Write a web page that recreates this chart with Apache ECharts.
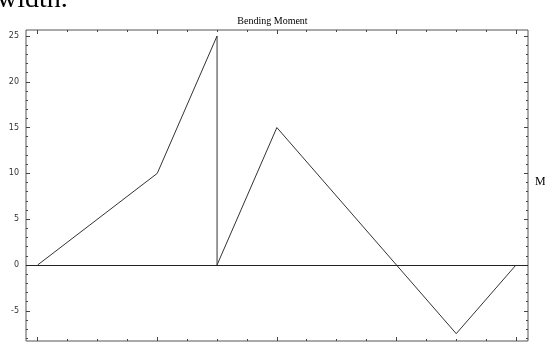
<!DOCTYPE html>
<html>
<head>
<meta charset="utf-8">
<script src="https://cdn.jsdelivr.net/npm/echarts@6/dist/echarts.min.js"></script>
<style>html,body{margin:0;padding:0;background:#fff;}#c{width:545px;height:348px;}</style>
</head>
<body>
<div id="c"></div>
<script>
// Beam position (x) and bending moment (M)
const positions = [0, 4, 6, 6, 8, 14, 16];
const moments   = [0, 10, 25, 0, 15, -7.5, 0];
const yTickLabels = [-5, 0, 5, 10, 15, 20, 25];
const xMinorTicks = [0,1,2,3,4,5,6,7,8,9,10,11,12,13,14,15,16];
const xMajorTicks = [0, 4, 8, 12, 16];
const yMinorTicks = [-8,-7,-6,-5,-4,-3,-2,-1,0,1,2,3,4,5,6,7,8,9,10,11,12,13,14,15,16,17,18,19,20,21,22,23,24,25];
const yMajorTicks = [-5, 0, 5, 10, 15, 20, 25];

const X_MIN = -0.39, X_MAX = 16.4, Y_MIN = -8.3, Y_MAX = 25.65;
const tickColor = '#444';

function xAx(pos, ticks, len) {
  return {
    type: 'value', position: pos, min: X_MIN, max: X_MAX,
    axisLine: {show: false, onZero: false}, splitLine: {show: false},
    axisLabel: {show: false},
    axisTick: {show: true, inside: true, length: len, customValues: ticks, lineStyle: {color: tickColor, width: 1}}
  };
}
function yAx(pos, ticks, len, labels) {
  return {
    type: 'value', position: pos, min: Y_MIN, max: Y_MAX,
    axisLine: {show: false, onZero: false}, splitLine: {show: false},
    axisLabel: labels ? {show: true, customValues: labels, fontSize: 8, color: '#333', fontFamily: 'DejaVu Sans', margin: 7} : {show: false},
    axisTick: {show: true, inside: true, length: len, customValues: ticks, lineStyle: {color: tickColor, width: 1}}
  };
}

const chart = echarts.init(document.getElementById('c'), null, {renderer: 'canvas'});
chart.setOption({
  animation: false,
  backgroundColor: '#fff',
  title: {
    text: 'Bending Moment', left: 'center', top: 11,
    textStyle: {fontFamily: 'Liberation Serif', fontSize: 10, fontWeight: 'normal', color: '#000'}
  },
  grid: {left: 26, top: 30, right: 17, bottom: 7, show: true, borderColor: '#555', borderWidth: 1, backgroundColor: 'transparent'},
  xAxis: [xAx('bottom', xMinorTicks, 2), xAx('bottom', xMajorTicks, 4), xAx('top', xMinorTicks, 2), xAx('top', xMajorTicks, 4)],
  yAxis: [yAx('left', yMinorTicks, 2, yTickLabels), yAx('left', yMajorTicks, 4, null), yAx('right', yMinorTicks, 2, null), yAx('right', yMajorTicks, 4, null)],
  graphic: [
    {type: 'text', left: -3, top: -14, style: {text: 'width.', font: '28px "Liberation Serif"', fill: '#000'}},
    {type: 'text', left: 535, top: 176, style: {text: 'M', font: '12px "Liberation Serif"', fill: '#000'}}
  ],
  series: [{
    type: 'line',
    xAxisIndex: 0, yAxisIndex: 0,
    data: positions.map((x, i) => [x, moments[i]]),
    showSymbol: false, symbol: 'none',
    lineStyle: {color: '#333', width: 1},
    markLine: {
      silent: true, symbol: 'none', label: {show: false},
      lineStyle: {color: '#222', width: 1, type: 'solid'},
      data: [{yAxis: 0}]
    }
  }]
});
</script>
</body>
</html>
